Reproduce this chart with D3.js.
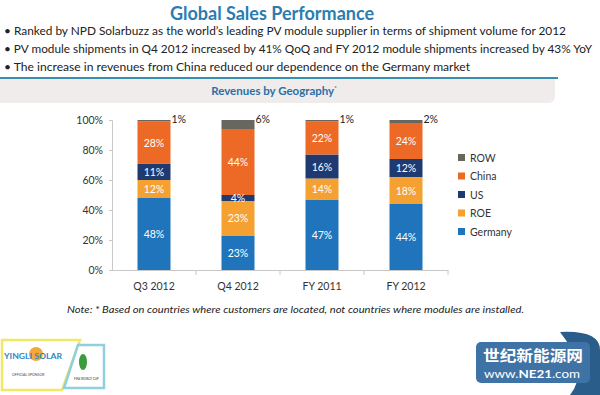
<!DOCTYPE html>
<html>
<head>
<meta charset="utf-8">
<script src="https://cdn.jsdelivr.net/npm/d3@7"></script>
<style>
  body { margin: 0; background: #fff; }
  svg { display: block; font-family: Lato, "Open Sans", sans-serif; }
</style>
</head>
<body>
<div id="chart"></div>
<script>
// Chart data
const categories = ["Q3 2012", "Q4 2012", "FY 2011", "FY 2012"];
const regions = ["Germany", "ROE", "US", "China", "ROW"];
const germany = [48, 23, 47, 44];
const roe = [12, 23, 14, 18];
const us = [11, 4, 16, 12];
const china = [28, 44, 22, 24];
const row = [1, 6, 1, 2];
const yTicks = [0, 20, 40, 60, 80, 100];
const bullets = [
  "Ranked by NPD Solarbuzz as the world\u2019s leading PV module supplier in terms of shipment volume for 2012",
  "PV module shipments in Q4 2012 increased by 41% QoQ and FY 2012 module shipments increased by 43% YoY",
  "The increase in revenues from China reduced our dependence on the Germany market"
];

const colors = {
  Germany: "#1f74bb",
  ROE: "#f4a132",
  US: "#1e3a70",
  China: "#ec6a25",
  ROW: "#676760"
};

const W = 600, H = 395;
const svg = d3.select("#chart").append("svg").attr("width", W).attr("height", H);

// Title and bullets
svg.append("text")
  .attr("x", 272).attr("y", 20)
  .attr("text-anchor", "middle")
  .attr("font-size", 18).attr("font-weight", "bold")
  .attr("fill", "#2b7cb0")
  .text("Global Sales Performance");

svg.selectAll(".bullet").data(bullets).join("text")
  .attr("class", "bullet")
  .attr("x", 4).attr("y", (d, i) => 35 + i * 18)
  .attr("font-size", 11.6).attr("fill", "#222")
  .attr("textLength", (d, i) => [562, 588, 466][i])
  .attr("lengthAdjust", "spacingAndGlyphs")
  .text(d => "\u2022 " + d);

// header band for the chart
svg.append("path")
  .attr("d", "M0,79 H555 V96 Q555,103 548,103 H0 Z")
  .attr("fill", "#efeceb");
svg.append("line")
  .attr("x1", 0).attr("x2", 558).attr("y1", 78).attr("y2", 78)
  .attr("stroke", "#3a8fb0").attr("stroke-width", 2);
svg.append("text")
  .attr("x", 274).attr("y", 95)
  .attr("text-anchor", "middle")
  .attr("font-size", 11.5).attr("font-weight", "bold").attr("fill", "#2b6fa8")
  .text("Revenues by Geography")
  .append("tspan").attr("dy", -5).attr("font-size", 6).text("*");

// Scales
const x = d3.scaleBand().domain(categories).range([112, 448]).paddingInner(0).paddingOuter(0);
const y = d3.scaleLinear().domain([0, 100]).range([270, 120]);
const barW = 33;

const data = categories.map((c, i) => ({
  cat: c, Germany: germany[i], ROE: roe[i], US: us[i], China: china[i], ROW: row[i]
}));
const stacked = d3.stack().keys(regions)(data);

// Axes
const yAxis = svg.append("g").attr("transform", "translate(112,0)")
  .call(d3.axisLeft(y).tickValues(yTicks).tickFormat(d => d + "%").tickSize(3).tickPadding(6));
yAxis.select(".domain").attr("stroke", "#c8c8c8");
yAxis.selectAll(".tick line").attr("stroke", "#c8c8c8");
yAxis.selectAll("text").attr("font-size", 10.5).attr("fill", "#333").attr("font-family", "Lato, sans-serif");

const xAxis = svg.append("g").attr("transform", "translate(0,270)")
  .call(d3.axisBottom(x).tickSize(0).tickPadding(13));
xAxis.select(".domain").attr("stroke", "#c8c8c8");
xAxis.selectAll("text").attr("font-size", 10.5).attr("fill", "#333").attr("font-family", "Lato, sans-serif");
// boundary tick marks between categories
svg.append("g").selectAll("line")
  .data(categories.slice(1).map(c => x(c)).concat([x.range()[1]]))
  .join("line")
  .attr("x1", d => d).attr("x2", d => d).attr("y1", 270).attr("y2", 275)
  .attr("stroke", "#c8c8c8");

// Bars
const layers = svg.append("g").selectAll("g").data(stacked).join("g")
  .attr("fill", d => colors[d.key]);
layers.selectAll("rect").data(d => d).join("rect")
  .attr("x", d => x(d.data.cat) + (x.bandwidth() - barW) / 2)
  .attr("width", barW)
  .attr("y", d => y(d[1]))
  .attr("height", d => y(d[0]) - y(d[1]));

// Segment labels
stacked.forEach(layer => {
  layer.forEach(d => {
    const v = d[1] - d[0];
    const cx = x(d.data.cat) + x.bandwidth() / 2;
    if (layer.key === "ROW") {
      svg.append("text")
        .attr("x", cx + barW / 2 + 1).attr("y", y(100) + 3)
        .attr("font-size", 10.5).attr("fill", "#222")
        .text(v + "%");
    } else {
      svg.append("text")
        .attr("x", cx).attr("y", (y(d[0]) + y(d[1])) / 2 + 4)
        .attr("text-anchor", "middle")
        .attr("font-size", 10.5).attr("fill", "#fff")
        .text(v + "%");
    }
  });
});

// Legend (top to bottom: ROW ... Germany)
const legend = svg.append("g").selectAll("g").data(regions.slice().reverse()).join("g")
  .attr("transform", (d, i) => `translate(458,${158 + i * 18.5})`);
legend.append("rect").attr("x", 0).attr("y", -4).attr("width", 7).attr("height", 7)
  .attr("fill", d => colors[d]);
legend.append("text").attr("x", 12).attr("y", 3.5)
  .attr("font-size", 10.5).attr("fill", "#333").text(d => d);

// Note
svg.append("text")
  .attr("x", 67).attr("y", 313)
  .attr("font-size", 10).attr("font-style", "italic").attr("fill", "#222")
  .attr("textLength", 457).attr("lengthAdjust", "spacingAndGlyphs")
  .text("Note: * Based on countries where customers are located, not countries where modules are installed.");

// Sponsor logo (simplified)
const logo = svg.append("g");
logo.append("path").attr("d", "M2,340 H80 L62,390 H2 Z")
  .attr("fill", "#fff").attr("stroke", "#f1e86a").attr("stroke-width", 2.5);
logo.append("path").attr("d", "M78,345 H104 V388 H64 Z")
  .attr("fill", "#fff").attr("stroke", "#8fd0dd").attr("stroke-width", 2.5);
logo.append("circle").attr("cx", 36).attr("cy", 354).attr("r", 7).attr("fill", "#f2a93a");
logo.append("text").attr("x", 4).attr("y", 359).attr("font-size", 7.5).attr("font-weight", "bold")
  .attr("fill", "#2d86c5").attr("textLength", 58).attr("lengthAdjust", "spacingAndGlyphs")
  .text("YINGLI SOLAR");
logo.append("text").attr("x", 12).attr("y", 376).attr("font-size", 3.5).attr("fill", "#444")
  .text("OFFICIAL SPONSOR");
logo.append("ellipse").attr("cx", 83).attr("cy", 362).attr("rx", 4).attr("ry", 8).attr("fill", "#3b9c3e");
logo.append("text").attr("x", 74).attr("y", 380).attr("font-size", 3).attr("fill", "#333")
  .text("FIFA WORLD CUP");

// NE21 watermark (simplified)
const ne = svg.append("g");
ne.append("path").attr("d", "M560,332 Q600,330 600,350 V395 H570 Q590,370 560,332 Z").attr("fill", "#2a5d8a");
ne.append("rect").attr("x", 476).attr("y", 342).attr("width", 114).attr("height", 41).attr("rx", 5)
  .attr("fill", "#3f73a6");
ne.append("text").attr("x", 483).attr("y", 361).attr("font-size", 15).attr("font-weight", "bold")
  .attr("fill", "#fff").attr("font-family", "Noto Sans CJK SC")
  .attr("textLength", 100).attr("lengthAdjust", "spacingAndGlyphs").text("世纪新能源网");
ne.append("text").attr("x", 484).attr("y", 378).attr("font-size", 11).attr("fill", "#fff")
  .attr("textLength", 96).attr("lengthAdjust", "spacingAndGlyphs")
  .html('www.<tspan font-weight="bold">NE21</tspan>.com');
</script>
</body>
</html>
